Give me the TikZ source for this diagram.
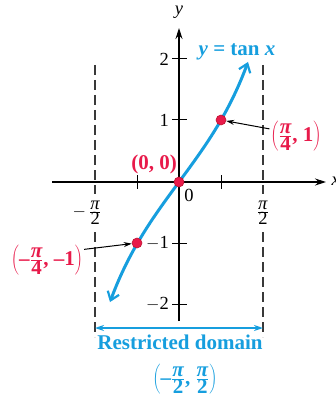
\documentclass[tikz,border=0pt]{standalone}
\usepackage{fontspec}
\setmainfont{Liberation Serif}
\usetikzlibrary{arrows.meta}
\definecolor{cblue}{RGB}{22,158,222}
\definecolor{cred}{RGB}{232,26,74}
\definecolor{dred}{RGB}{190,20,50}
\tikzset{
  axisline/.style={line width=1.1pt, -{Stealth[length=11pt,width=7pt]}},
  tickmark/.style={line width=1pt},
  vdash/.style={line width=1.1pt, dash pattern=on 10pt off 5pt, gray!45!black},
  curveline/.style={cblue, line width=3pt, {Straight Barb[length=8pt,width=12pt,line width=2.2pt]}-{Straight Barb[length=8pt,width=12pt,line width=2.2pt]}},
  dot/.style={circle, fill=cred, draw=dred, line width=0.6pt, inner sep=0pt, minimum size=10pt},
  ticklbl/.style={font=\fontsize{18.5}{20}\selectfont, inner sep=1pt},
  redlbl/.style={cred, font=\fontsize{21}{23}\selectfont\bfseries, inner sep=1pt},
  bluelbl/.style={cblue, font=\fontsize{21}{23}\selectfont\bfseries, inner sep=1pt},
  pointer/.style={line width=1pt, -{Stealth[length=8pt,width=5pt]}},
}
\begin{document}
\begin{tikzpicture}[x=1pt,y=-1pt]
\useasboundingbox (0,0) rectangle (336,398);
% axes
\coordinate (xs) at (52,182);
\coordinate (xe) at (326,182);
\coordinate (ys) at (179,321);
\coordinate (ye) at (179,28);
\draw[axisline] (xs) -- (xe);
\draw[axisline] (ys) -- (ye);
\node[font=\fontsize{18.5}{20}\selectfont\itshape] (ylab) at (179,12) {y};
\node[font=\fontsize{18.5}{20}\selectfont\itshape, anchor=west] (xlab) at (328,181) {x};
% y ticks
\foreach \yy/\lab/\nm in {59/2/t2, 120/1/t1, 243/{$-$1}/tm1, 304/{$-$2}/tm2}{
  \coordinate (\nm a) at (172,\yy);
  \coordinate (\nm b) at (187,\yy);
  \draw[tickmark] (\nm a) -- (\nm b);
  \node[ticklbl, anchor=east] (\nm l) at (170,\yy) {\lab};
}
\node[ticklbl] (zero) at (189,195) {0};
% x ticks
\foreach \xx/\nm in {137/xm, 221/xp}{
  \coordinate (\nm a) at (\xx,175);
  \coordinate (\nm b) at (\xx,189);
  \draw[tickmark] (\nm a) -- (\nm b);
}
% dashed asymptote lines
\coordinate (dl1) at (95,65); \coordinate (dl2) at (95,194);
\coordinate (dl3) at (95,232); \coordinate (dl4) at (95,337);
\coordinate (dr1) at (263,65); \coordinate (dr2) at (263,194);
\coordinate (dr3) at (263,232); \coordinate (dr4) at (263,337);
\draw[vdash] (dl1) -- (dl2) (dl3) -- (dl4);
\draw[vdash] (dr1) -- (dr2) (dr3) -- (dr4);
\node[ticklbl] (mhalfpi) at (87,213) {$-$\,$\frac{\mbox{\textit{π}}}{\mbox{2}}$};
\node[ticklbl] (halfpi) at (263,213) {$\frac{\mbox{\textit{π}}}{\mbox{2}}$};
% curve
\draw[curveline] plot[domain=-69:69, samples=80, variable=\u] ({179+\u},{182-118.1*tan(0.6589*\u)});
% points
\node[dot] (p0) at (179,182) {};
\node[dot] (p1) at (221,120) {};
\node[dot] (pm1) at (137,243) {};
% labels
\node[bluelbl] (eq) at (237,52) {\textit{y} = tan \textit{x}};
\node[redlbl] (l0) at (154,164) {(0, 0)};
\node[redlbl] (l1) at (296,136) {$\left(\frac{\mbox{\bfseries\itshape π}}{\mbox{\bfseries 4}}\mbox{\bfseries ,\ 1}\right)$};
\node[redlbl] (lm1) at (47,260) {$\left(\mbox{\bfseries –}\frac{\mbox{\bfseries\itshape π}}{\mbox{\bfseries 4}}\mbox{\bfseries , –1}\right)$};
\draw[pointer] (l1.165) -- (p1);
\draw[pointer] (lm1.16) -- (pm1);
% restricted domain
\coordinate (da) at (95,328);
\coordinate (db) at (263,328);
\draw[cblue, line width=1.3pt, {Stealth[length=9pt,width=6pt]}-{Stealth[length=9pt,width=6pt]}] (da) -- (db);
\node[bluelbl] (rd) at (180,342) {Restricted domain};
\node[bluelbl] (iv) at (185,379) {$\left(\mbox{\bfseries –}\frac{\mbox{\bfseries\itshape π}}{\mbox{\bfseries 2}}\mbox{\bfseries ,\ }\frac{\mbox{\bfseries\itshape π}}{\mbox{\bfseries 2}}\right)$};
\end{tikzpicture}
\end{document}
